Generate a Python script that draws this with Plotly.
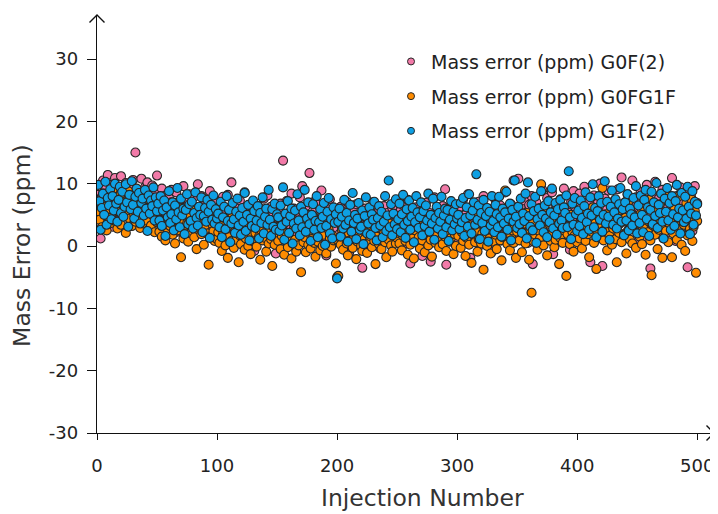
import plotly.graph_objects as go

injections = list(range(1, 501))

g0f2 = [
 8.2, 6.5, 1.2, 7.9, 10.5, 5.3, 9.1, 6.8, 11.4, 4.2, 7.6, 9.8, 3.1, 8.4, 10.9, 6.2, 5.5, 9.3, 7.1, 11.2, 4.8, 8.7, 6.0, 10.1, 7.4, 5.9, 9.6, 8.0, 3.7, 10.6, 7.2, 15.0, 6.6, 9.0, 4.5, 8.3, 10.8, 5.7, 7.8, 9.4, 6.3, 10.2, 3.9, 8.9, 7.0, 9.7, 5.1, 8.5, 6.9, 11.3,
 7.3, 4.6, 6.8, 9.2, 3.4, 5.9, 8.1, 2.7, 6.4, 7.7, 4.1, 9.0, 5.2, 3.8, 6.9, 8.6, 2.3, 5.5, 7.2, 4.9, 6.1, 9.6, 3.2, 5.8, 7.5, 4.3, 8.3, 6.7, 1.9, 5.0, 7.9, 3.6, 6.2, 9.9, 4.7, 5.4, 8.0, 2.9, 6.6, 4.0, 7.1, 3.3, 5.7, 8.8, 1.6, 6.0, 4.4, 7.4, 5.1, 3.0,
 4.8, 2.1, 6.5, 3.7, 7.9, 1.4, 5.3, 3.0, 8.2, 4.6, 2.5, 10.2, 5.8, 0.9, 3.9, 6.7, 2.8, 4.4, 7.3, 1.7, 5.1, 3.5, 8.6, 0.3, 4.0, 6.1, 2.2, 5.6, 3.3, 7.0, -0.8, 4.7, 2.6, 6.4, 3.8, 1.2, 5.9, 4.2, 7.6, 2.0, 3.1, 8.1, 0.6, 4.9, 6.3, 2.4, 5.2, 3.6, -1.2, 4.5,
 5.7, 2.9, 6.8, 3.4, 13.7, 1.8, 4.6, 7.2, 0.4, 5.3, 3.1, 8.4, 2.2, 6.0, 4.1, -0.6, 5.5, 3.7, 7.8, 2.5, 9.6, 4.8, 1.3, 6.4, 3.0, 5.0, 11.7, 2.7, 4.3, 7.0, 0.8, 5.9, 3.6, 6.6, 2.0, 4.5, 8.9, 1.5, 3.9, 6.2, -1.5, 4.9, 2.4, 7.5, 3.3, 5.6, 1.0, 4.0, 2.8, -5.0,
 4.2, 1.9, 6.3, 3.0, 0.5, 5.4, 2.6, 7.1, 3.8, -1.1, 4.6, 2.2, 5.8, 1.4, 3.5, 6.7, 0.2, 4.0, 2.9, 5.1, -3.5, 3.3, 6.0, 1.7, 4.4, 2.4, 5.6, 0.9, 3.9, 7.0, 2.0, 4.8, 1.2, 3.6, 5.9, -0.4, 2.7, 4.1, 6.4, 1.6, 3.2, 5.3, 0.7, 4.5, 2.3, 6.1, 3.7, 1.0, 5.0, 2.8,
 3.9, 1.5, 5.7, 2.6, 6.6, 0.3, 4.3, 2.0, 7.4, 3.4, -2.8, 5.1, 1.8, 4.7, 3.0, 6.2, 0.8, 3.7, 5.5, 2.3, -1.6, 4.9, 2.9, 6.9, 1.2, 3.6, 5.3, -2.5, 4.1, 2.5, 7.8, 1.0, 3.3, 5.9, 2.1, 4.4, 0.5, 6.4, 3.1, 9.1, -3.0, 4.6, 2.7, 5.0, 1.4, 3.8, 6.0, 2.2, 4.2, 0.9,
 4.5, 2.0, 6.3, 3.2, 7.5, 0.6, 5.0, 2.8, 8.3, 4.1, -1.9, 5.7, 3.5, 6.8, 1.3, 4.8, 2.4, 7.1, 3.9, 0.2, 5.4, 8.0, 2.6, 4.3, 6.0, 1.7, 3.7, 5.9, -0.9, 4.6, 3.0, 7.4, 1.9, 5.2, 3.3, 6.5, 0.9, 4.0, 2.2, 8.6, 3.6, 5.5, 1.1, 4.9, 6.7, 2.9, 10.5, 3.4, 5.1, 1.5,
 10.8, 3.8, 6.2, 1.4, 4.7, 7.3, 2.6, 5.4, 0.5, 6.6, 3.9, 8.0, -2.9, 5.0, 2.9, 7.0, 4.2, 1.8, 6.1, 3.4, 9.0, 5.6, 0.8, 4.4, 7.7, 2.3, 5.2, 3.1, 8.6, -1.3, 4.9, 6.4, 2.0, 5.8, 3.6, 7.5, 1.1, 4.6, 9.2, 2.7, 6.0, 3.3, 5.3, -0.6, 7.1, 4.0, 8.8, 2.5, 5.7, 3.0,
 5.1, 8.4, 2.8, 6.3, 3.7, 9.5, 1.2, 5.6, 4.0, 7.2, -2.6, 6.0, 3.3, 8.1, 4.7, 1.9, 6.8, 3.0, 10.0, 5.3, -3.2, 4.4, 7.6, 2.4, 5.9, 8.9, 3.8, 6.5, 0.6, 4.9, 7.3, 2.1, 5.5, 9.1, 3.5, 6.1, 11.0, 4.2, 1.5, 7.0, 5.0, 8.3, 2.7, 6.6, 3.9, 10.5, 4.6, 0.9, 7.8, 5.7,
 6.2, 3.4, 8.7, 4.9, 1.3, 7.1, 5.6, 9.8, 2.6, 6.4, -3.6, 5.0, 8.2, 3.7, 10.3, 6.8, 4.3, 7.6, 1.9, 5.4, 9.0, 3.1, 6.0, 8.5, 4.6, 2.2, 7.3, 5.8, 10.9, 3.9, 6.6, 0.8, 8.0, 4.1, 5.2, 9.4, 2.8, 7.0, 5.9, 3.3, 8.8, -3.4, 6.3, 4.8, 7.8, 2.4, 5.5, 9.6, 4.0, 6.9,
]

g0fg1f = [
 5.6, 4.2, 7.1, 3.0, 8.4, 5.2, 6.3, 2.5, 7.8, 4.6, 5.9, 3.7, 9.0, 6.1, 4.0, 7.4, 2.8, 5.5, 8.1, 3.4, 6.7, 4.8, 7.0, 2.1, 5.3, 8.8, 4.4, 6.5, 3.2, 7.7, 5.0, 3.9, 6.9, 4.5, 8.3, 2.9, 5.8, 7.2, 3.6, 6.0, 4.1, 7.5, 2.6, 5.4, 3.3, 6.6, 4.9, 2.2, 5.7, 3.8,
 4.0, 2.3, 5.6, 1.5, 3.8, 6.4, 0.9, 4.5, 2.7, 5.1, 3.2, 7.0, 1.8, 3.9, 0.4, 4.8, 2.5, 6.1, 3.4, -1.8, 4.2, 1.2, 5.4, 2.9, 3.6, 0.7, 4.9, 2.1, 6.5, 3.0, 1.4, 4.4, -0.5, 3.7, 2.6, 5.8, 1.9, 4.1, 0.2, 3.3, 5.2, 2.0, -3.0, 4.6, 1.6, 3.5, 2.4, 0.8, 4.3, 1.1,
 2.2, 0.5, 3.6, -0.8, 1.9, 4.5, 0.1, 2.8, -1.9, 1.4, 3.3, 0.8, 5.0, -0.3, 2.4, 1.0, 3.9, -2.6, 1.7, 0.3, 2.9, 4.2, -0.6, 1.2, 2.6, 0.0, 3.4, -1.3, 1.8, 5.5, 0.6, 2.1, -0.1, 3.0, 1.5, -2.2, 2.5, 0.9, 4.0, 1.3, -0.9, 2.7, 0.4, 3.7, 1.1, -3.2, 2.0, 0.2, 3.1, 1.6,
 0.8, 2.5, -0.5, 1.6, 3.4, -1.4, 0.9, 2.1, -0.2, 4.3, 1.2, -2.0, 0.4, 2.8, 1.0, -0.9, 3.1, 0.1, 1.9, -4.2, 2.4, 0.6, 1.4, -1.0, 3.7, 0.2, 2.0, -0.4, 1.1, 4.8, 0.5, -1.7, 2.2, 0.7, 1.5, -0.7, 2.9, 0.0, 1.8, 3.3, -1.2, 0.3, 2.6, 1.3, -0.1, 1.7, 0.9, 3.9, -2.8, 1.0,
 -4.8, 1.4, 0.2, 2.6, -0.6, 1.8, 3.5, 0.4, -1.5, 2.0, 0.9, 4.2, -0.3, 1.3, 2.8, -2.1, 0.7, 1.9, 3.1, 0.0, -0.8, 2.4, 1.1, 4.7, -1.1, 0.5, 1.6, 3.3, -0.2, 2.2, 0.8, -2.9, 1.5, 2.9, 0.3, 3.8, -0.5, 1.2, 2.0, 0.6, -1.8, 2.7, 1.0, 3.6, 0.1, -0.9, 1.7, 2.5, 0.4, 1.3,
 2.1, 0.4, 3.4, -0.7, 1.6, 2.9, 0.8, 4.6, -1.4, 1.9, 0.2, 3.1, 1.2, -2.0, 2.5, 0.6, 3.8, 1.4, -0.4, 2.7, 0.9, 4.1, -1.0, 1.7, 2.3, 0.1, 3.5, 1.0, -1.7, 2.0, 4.8, 0.5, 1.8, 3.0, -0.2, 2.6, 1.1, 0.3, 3.7, 1.5, -0.8, 2.2, 4.3, 0.7, 1.3, 2.8, -1.3, 1.9, 0.0, 3.2,
 1.6, 3.6, -0.3, 2.2, 0.8, 4.4, -1.6, 1.3, 2.7, 0.2, 3.3, -2.7, 1.9, 5.0, 0.6, 2.4, -0.9, 1.1, 3.9, 0.4, 2.0, -3.8, 1.5, 3.0, 0.0, 4.7, 1.2, -1.2, 2.6, 0.7, 3.4, 1.8, -0.5, 2.9, 5.6, 0.9, -2.3, 1.4, 3.7, 8.9, 2.1, 0.3, 4.1, -0.7, 1.7, 2.5, 0.5, 3.1, -1.9, 2.3,
 2.8, 0.9, 4.2, -1.0, 2.1, 3.6, 0.4, 5.3, 1.5, -2.2, 2.6, -7.5, 3.9, 0.7, 1.8, 4.8, -0.6, 2.4, 1.2, 9.9, 3.2, 0.1, 2.0, 5.7, -1.5, 1.6, 3.5, 0.8, 4.4, 2.2, -0.2, 1.0, 6.1, 2.9, -2.9, 1.3, 3.8, 0.5, 2.5, 4.6, -4.8, 1.9, 3.0, 0.3, 5.0, 2.3, -0.9, 1.7, 3.4, 0.6,
 3.1, 1.2, 4.6, -0.4, 2.7, 5.5, 0.8, 3.3, 1.9, -1.8, 4.0, 2.3, 6.2, 0.5, 3.6, -3.7, 2.0, 4.8, 1.4, 3.0, 9.3, 0.9, 2.5, 5.1, -0.7, 3.8, 1.6, 4.3, 0.2, 2.8, 6.6, 1.1, -2.6, 3.4, 2.1, 5.7, 0.6, 3.9, 1.8, 4.5, -1.2, 2.4, 7.2, 1.0, 3.2, 0.4, 4.9, 2.6, -0.3, 3.5,
 3.7, 1.5, 5.2, 0.3, 2.9, 6.0, -1.4, 4.1, 2.2, 7.4, 0.9, -4.7, 3.3, 5.8, 1.8, 4.4, -0.5, 2.6, 6.7, 3.0, -1.9, 1.2, 4.9, 2.4, 7.9, 0.6, 3.6, 5.4, -1.8, 2.0, 6.3, 3.9, 1.0, 4.6, 8.0, 2.7, 0.2, 5.0, 3.4, -0.8, 6.9, 1.7, 4.2, 2.8, 7.5, 0.8, 3.1, 5.6, -4.3, 4.0,
]

g1f2 = [
 9.8, 7.2, 2.6, 6.1, 8.4, 5.0, 10.3, 3.4, 7.7, 6.5, 9.1, 4.3, 8.0, 5.7, 10.0, 6.8, 3.9, 7.4, 9.5, 5.3, 8.7, 4.7, 6.3, 9.9, 7.0, 3.1, 8.2, 5.9, 10.4, 6.6, 4.4, 7.9, 9.2, 5.5, 8.5, 3.6, 6.9, 7.6, 4.9, 9.0, 6.0, 2.4, 8.1, 5.2, 7.3, 6.4, 9.4, 4.1, 7.8, 5.6,
 6.8, 4.1, 8.0, 3.2, 5.7, 7.3, 1.6, 6.2, 4.6, 8.8, 3.7, 5.1, 7.0, 2.5, 6.5, 4.3, 9.3, 5.4, 3.0, 7.6, 4.9, 6.0, 1.9, 5.8, 8.3, 3.5, 6.7, 4.0, 7.1, 2.8, 5.3, 8.6, 4.5, 3.3, 6.3, 5.0, 7.8, 2.2, 4.8, 6.1, 3.9, 7.4, 5.5, 1.3, 6.6, 4.2, 8.1, 3.6, 5.9, 4.4,
 5.2, 3.0, 7.1, 1.4, 4.6, 6.3, 2.7, 8.0, 4.0, 5.8, 0.6, 3.6, 6.9, 4.3, 2.1, 5.5, 7.6, 3.3, 4.9, 1.8, 6.1, 3.9, 8.5, 2.4, 5.0, 6.6, 0.9, 4.4, 3.2, 7.3, 5.6, 2.9, 4.1, 6.4, 1.2, 5.3, 3.7, 7.8, 2.0, 4.7, 6.0, 3.4, 9.0, 4.2, 1.6, 5.9, 3.1, 6.8, 2.6, 5.1,
 4.6, 2.4, 6.5, 3.3, 9.4, 1.0, 5.2, 3.9, 7.2, 2.1, 4.8, 6.0, 0.4, 3.6, 5.7, 2.8, 8.3, 4.1, 1.7, 6.3, 3.0, 5.4, 9.0, 2.3, 4.4, 7.0, 3.5, 0.8, 5.0, 6.7, 2.6, 4.0, 8.0, 1.4, 3.8, 5.9, 2.9, 4.7, 6.9, 0.2, 3.2, 5.5, 7.7, 2.0, 4.3, 1.2, 6.2, 3.7, 5.1, -5.2,
 3.9, 6.0, 1.5, 4.7, 2.8, 7.4, 3.4, 5.3, 0.7, 4.1, 6.6, 2.3, 8.5, 3.7, 5.0, 1.1, 4.4, 6.9, 2.6, 3.1, 5.7, 0.3, 4.8, 7.8, 2.0, 3.6, 6.2, 1.8, 5.1, 4.2, 7.1, 2.9, 0.9, 4.5, 6.4, 3.3, 5.5, 1.4, 3.9, 8.0, 2.4, 4.9, 10.5, 3.0, 6.7, 1.7, 5.2, 3.5, 7.5, 2.7,
 4.3, 6.8, 2.2, 5.1, 8.2, 3.4, 1.3, 5.9, 4.0, 7.3, 2.6, 4.7, 6.1, 0.6, 3.8, 8.0, 5.4, 2.9, 4.6, 7.0, 1.7, 5.6, 3.2, 6.5, 4.1, 8.4, 2.3, 5.0, 3.6, 7.6, 1.0, 4.5, 6.3, 2.8, 5.3, 3.9, 7.9, 1.9, 4.9, 6.0, 3.0, 5.8, 0.8, 4.2, 7.2, 2.5, 5.5, 3.5, 6.7, 4.4,
 5.0, 2.7, 6.9, 3.8, 7.7, 1.6, 4.5, 6.2, 3.1, 8.3, 4.9, 2.0, 5.7, 7.0, 3.4, 11.5, 4.2, 6.5, 1.1, 5.3, 3.7, 7.4, 2.4, 4.8, 6.1, 0.7, 5.5, 3.3, 8.0, 4.0, 2.2, 6.6, 5.1, 3.0, 7.9, 4.6, 1.5, 6.0, 3.6, 5.4, 8.7, 2.6, 4.4, 6.8, 0.9, 5.8, 3.9, 10.5, 4.7, 2.9,
 6.3, 3.5, 7.6, 2.1, 5.2, 4.0, 8.4, 1.2, 10.2, 4.8, 3.1, 6.7, 2.5, 5.6, 7.9, 0.5, 4.3, 6.0, 3.3, 8.8, 5.0, 2.2, 6.5, 4.4, 1.4, 7.2, 3.8, 5.4, 9.2, 2.8, 4.9, 6.9, 1.8, 5.9, 3.6, 7.4, 4.1, 2.9, 6.2, 5.3, 8.1, 3.0, 12.0, 4.6, 1.1, 6.8, 3.4, 7.7, 5.1, 2.4,
 5.7, 3.2, 7.3, 4.5, 1.9, 6.4, 8.6, 3.8, 5.2, 2.6, 7.8, 4.9, 9.9, 3.0, 6.1, 1.4, 5.6, 8.0, 4.2, 6.9, 2.3, 5.0, 10.4, 3.6, 7.1, 4.7, 1.0, 6.3, 8.9, 3.4, 5.4, 7.5, 2.8, 4.4, 6.7, 9.3, 3.9, 5.9, 1.7, 7.0, 4.1, 8.3, 2.5, 6.0, 5.1, 3.3, 7.7, 4.6, 9.6, 2.0,
 6.5, 3.7, 8.1, 5.0, 2.2, 7.4, 9.0, 4.3, 6.2, 1.6, 5.8, 8.7, 3.5, 7.0, 4.8, 10.1, 2.9, 6.6, 5.3, 8.4, 3.9, 1.2, 7.6, 5.5, 9.3, 4.1, 6.9, 2.6, 8.0, 5.1, 3.2, 7.2, 9.8, 4.6, 6.0, 2.0, 8.5, 5.7, 3.8, 7.9, 4.4, 9.5, 6.3, 1.9, 5.2, 8.8, 3.4, 7.1, 4.9, 6.7,
]

series_names = ["Mass error (ppm) G0F(2)", "Mass error (ppm) G0FG1F", "Mass error (ppm) G1F(2)"]
series_values = [g0f2, g0fg1f, g1f2]
series_colors = ["#f27aa8", "#ff8c00", "#0ea0e4"]

x_ticks = [0, 100, 200, 300, 400, 500]
x_tick_labels = ["0", "100", "200", "300", "400", "500"]
y_ticks = [-30, -20, -10, 0, 10, 20, 30]
y_tick_labels = ["-30", "-20", "-10", "0", "10", "20", "30"]

FONT = "DejaVu Sans, sans-serif"
TXT = "#222222"

fig = go.Figure()
for i, (name, vals, col) in enumerate(zip(series_names, series_values, series_colors)):
    fig.add_trace(go.Scatter(
        x=injections, y=vals, mode="markers", name=name, legendgroup=f"g{i}",
        showlegend=False,
        marker=dict(size=9, color=col, line=dict(color="#262626", width=1.1)),
    ))
# legend entries (no data) with small legend symbols
for i, (name, col) in enumerate(zip(series_names, series_colors)):
    fig.add_trace(go.Scatter(
        x=[None], y=[None], mode="markers", name=name, legendgroup=f"g{i}",
        marker=dict(size=7, color=col, line=dict(color="#262626", width=1)),
    ))

# The page body has an 8px margin, so the figure is 710x506 placed at (8, 8).
# plot area in figure px: left 89, right 706, top 7, bottom 425
pw, ph = 617.0, 418.0
ax = 7.5 / pw
ay = 7.5 / ph

fig.update_layout(
    width=710, height=506,
    margin=dict(l=89, r=4, t=7, b=81, autoexpand=False),
    paper_bgcolor="white", plot_bgcolor="white",
    font=dict(family=FONT, color=TXT, size=18),
    showlegend=True,
    legend=dict(x=0.4765, y=0.934, xanchor="left", yanchor="top",
                bgcolor="rgba(0,0,0,0)", font=dict(size=19, family=FONT, color=TXT),
                tracegroupgap=7, itemsizing="trace"),
    xaxis=dict(range=[0, 514], tickvals=x_ticks, ticktext=x_tick_labels,
               showgrid=False, zeroline=False, automargin=False,
               showline=True, linecolor="#111111", linewidth=1.4,
               ticks="outside", ticklen=6, tickwidth=1.2, tickcolor="#111111",
               ticklabelstandoff=10,
               tickfont=dict(size=18, family=FONT, color=TXT)),
    yaxis=dict(range=[-30, 37.06], tickvals=y_ticks, ticktext=y_tick_labels,
               showgrid=False, zeroline=False, automargin=False,
               showline=True, linecolor="#111111", linewidth=1.4,
               ticks="outside", ticklen=9, tickwidth=1.2, tickcolor="#111111",
               ticklabelstandoff=5,
               tickfont=dict(size=18, family=FONT, color=TXT)),
    annotations=[
        dict(text="Injection Number", xref="paper", yref="paper", x=0.528, y=-0.155,
             showarrow=False, xanchor="center", yanchor="middle",
             font=dict(size=23.5, family=FONT, color="#333333")),
        dict(text="Mass Error (ppm)", xref="paper", yref="paper", x=-0.122, y=0.447,
             showarrow=False, xanchor="center", yanchor="middle", textangle=-90,
             font=dict(size=23.5, family=FONT, color="#333333")),
    ],
    shapes=[
        dict(type="path", xref="paper", yref="paper",
             path=f"M {-ax},{1-ay} L 0,1 L {ax},{1-ay}",
             line=dict(color="#111111", width=1.4)),
        dict(type="path", xref="paper", yref="paper",
             path=f"M {1-ax},{ay} L 1,0 L {1-ax},{-ay}",
             line=dict(color="#111111", width=1.4)),
    ],
)

fig.write_html("out.html")
